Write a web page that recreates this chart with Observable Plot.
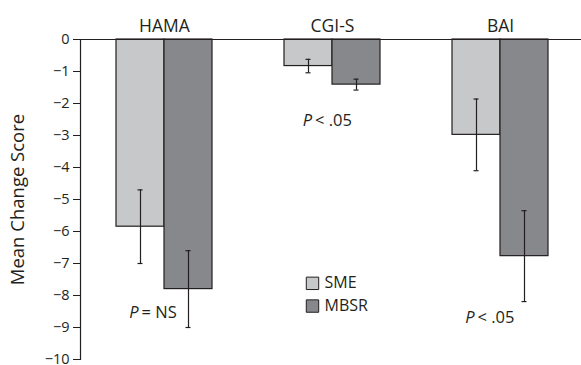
<!DOCTYPE html>
<html><head><meta charset="utf-8">
<script src="https://cdn.jsdelivr.net/npm/d3@7"></script>
<script src="https://cdn.jsdelivr.net/npm/@observablehq/plot@0.6"></script>
<style>
body{margin:0;background:#fff}
svg{font-family:"Open Sans",sans-serif}
</style>
</head><body><div id="chart"></div>
<script>
const groups = ["HAMA", "CGI-S", "BAI"];
const series = ["SME", "MBSR"];
const smeMean = [-5.85, -0.83, -2.98];
const smeErr = [1.15, 0.21, 1.12];
const mbsrMean = [-7.8, -1.41, -6.77];
const mbsrErr = [1.2, 0.17, 1.42];
const yTicks = [0, -1, -2, -3, -4, -5, -6, -7, -8, -9, -10];
const pText = ["= NS", "< .05", "< .05"];
const pY = [-8.53, -2.53, -8.68];
const legendY = [-7.62, -8.33];

const colors = {SME: "#c7c8ca", MBSR: "#87888b"};
const ink = "#231f20";

const rows = groups.flatMap((g, i) => [
  {group: g, series: "SME", mean: smeMean[i], err: smeErr[i]},
  {group: g, series: "MBSR", mean: mbsrMean[i], err: mbsrErr[i]}
]);
const sme = rows.filter(d => d.series === "SME");
const mbsr = rows.filter(d => d.series === "MBSR");
const caps = s => s.flatMap(d => [{group: d.group, y: d.mean - d.err}, {group: d.group, y: d.mean + d.err}]);
const ann = groups.map((g, i) => ({group: g, y: pY[i], text: pText[i]}));
const pDx = [-26, -20.5, -26];
const legend = series.map((s, i) => ({group: "CGI-S", y: legendY[i], series: s}));

const chart = Plot.plot({
  width: 581, height: 365,
  marginLeft: 80, marginRight: 0, marginTop: 39, marginBottom: 6,
  style: {fontFamily: "'Open Sans', sans-serif", fontSize: "14.5px", background: "white", color: ink},
  x: {domain: groups, range: [116, 548], paddingInner: 72 / 168, paddingOuter: 0, axis: null},
  y: {domain: [-10, 0], axis: null},
  marks: [
    Plot.barY(sme, {x: "group", y: "mean", fill: colors.SME, stroke: ink, strokeWidth: 1.2, insetRight: 48}),
    Plot.barY(mbsr, {x: "group", y: "mean", fill: colors.MBSR, stroke: ink, strokeWidth: 1.2, insetLeft: 48}),
    Plot.ruleX(sme, {x: "group", y1: d => d.mean - d.err, y2: d => d.mean + d.err, dx: -24, stroke: ink, strokeWidth: 1.2}),
    Plot.ruleX(mbsr, {x: "group", y1: d => d.mean - d.err, y2: d => d.mean + d.err, dx: 24, stroke: ink, strokeWidth: 1.2}),
    Plot.tickY(caps(sme), {x: "group", y: "y", insetLeft: 21.5, insetRight: 69.5, stroke: ink, strokeWidth: 1.2}),
    Plot.tickY(caps(mbsr), {x: "group", y: "y", insetLeft: 69.5, insetRight: 21.5, stroke: ink, strokeWidth: 1.2}),
    Plot.ruleY([0], {stroke: ink, strokeWidth: 1.2}),
    Plot.frame({anchor: "left", stroke: ink, strokeWidth: 1.2}),
    Plot.axisY({ticks: yTicks, tickSize: 7, tickPadding: 4, label: null, fontSize: 14.5, stroke: ink}),
    Plot.axisX({anchor: "top", tickSize: 0, tickPadding: 8, label: null, fontSize: 17.5}),
    Plot.text(["Mean Change Score"], {frameAnchor: "left", textAnchor: "middle", rotate: -90, dx: -62, fontSize: 18.5, fill: ink}),
    ...ann.map((a, i) => Plot.text([a], {x: "group", y: "y", text: () => "P", fontStyle: "italic", textAnchor: "end", dx: pDx[i], fontSize: 16.5, fill: ink})),
    ...ann.map((a, i) => Plot.text([a], {x: "group", y: "y", text: "text", textAnchor: "start", dx: pDx[i] + 3, fontSize: 16.5, fill: ink})),
    Plot.dot(legend, {x: "group", y: "y", dx: -20, symbol: "square", r: 7, fill: d => colors[d.series], stroke: ink, strokeWidth: 1}),
    Plot.text(legend, {x: "group", y: "y", text: "series", dx: -8, textAnchor: "start", fontSize: 16, fill: ink})
  ]
});
document.getElementById("chart").append(chart);
</script>
</body></html>
